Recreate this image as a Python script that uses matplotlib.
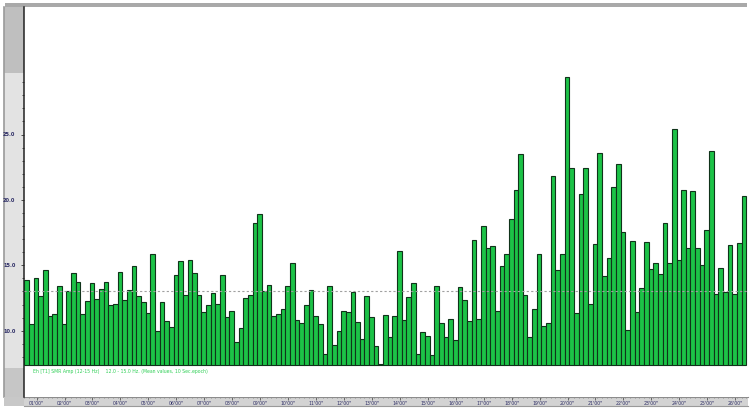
import matplotlib
matplotlib.use("Agg")
import matplotlib.pyplot as plt
from matplotlib.ticker import FixedLocator
import numpy as np

# ---- data ----
smr_amp = [13.85, 10.49, 14.03, 12.65, 14.64, 11.12, 11.25, 13.39, 10.54, 13.01,
           14.44, 13.72, 11.28, 12.25, 13.65, 12.45, 13.19, 13.72, 11.94, 12.04,
           14.46, 12.37, 13.14, 14.92, 12.65, 12.22, 11.35, 15.86, 9.98, 12.17,
           10.72, 10.28, 14.23, 15.30, 12.75, 15.40, 14.41, 12.73, 11.43, 11.94,
           12.86, 12.04, 14.26, 11.02, 11.48, 9.11, 10.18, 12.48, 12.71, 18.21,
           18.92, 13.06, 13.47, 11.10, 11.25, 11.66, 13.42, 15.20, 10.84, 10.61,
           11.94, 13.14, 11.12, 10.51, 8.24, 13.44, 8.93, 9.95, 11.53, 11.41,
           12.98, 10.66, 9.39, 12.63, 11.07, 8.83, 7.45, 11.22, 9.55, 11.12,
           16.12, 10.82, 12.55, 13.62, 8.19, 9.87, 9.62, 8.14, 13.44, 10.61,
           9.49, 10.92, 9.29, 13.32, 12.32, 10.72, 16.91, 10.92, 18.00, 16.35,
           16.48, 11.48, 14.95, 15.86, 18.52, 20.76, 23.49, 12.75, 9.54, 11.68,
           15.89, 10.36, 10.56, 21.83, 14.62, 15.84, 29.40, 22.44, 11.35, 20.47,
           22.42, 12.02, 16.65, 23.56, 14.18, 15.58, 21.01, 22.72, 17.55, 10.08,
           16.88, 11.43, 13.26, 16.80, 14.69, 15.20, 14.34, 18.23, 15.18, 25.42,
           15.43, 20.78, 16.30, 20.68, 16.35, 15.02, 17.68, 23.72, 12.78, 14.79,
           12.96, 16.53, 12.83, 16.73, 20.30]
mean_value = 13.0
baseline = 7.38
minutes = list(range(1, 27))
time_labels = [f"{m:02d}'00\"" for m in minutes]
y_major = [10, 15, 20, 25]
y_labels = ["10.0", "15.0", "20.0", "25.0"]
caption = "Eh [T1] SMR Amp (12-15 Hz)    12.0 - 15.0 Hz. (Mean values, 10 Sec.epoch)"

W, H = 750, 408
fig = plt.figure(figsize=(W / 100, H / 100), dpi=100)
fig.patch.set_facecolor("white")


def box(x0, y0, x1, y1):
    return [x0 / W, 1 - y1 / H, (x1 - x0) / W, (y1 - y0) / H]


def deco(rect, color, z=0):
    a = fig.add_axes(rect, zorder=z)
    a.set_facecolor(color)
    a.set_xticks([]); a.set_yticks([])
    for s in a.spines.values():
        s.set_visible(False)
    return a

# top border
deco(box(5, 3, 747, 7), "#a9a9a9")

# left strip (scroll indicator)
strip = fig.add_axes(box(4, 7, 24, 397), zorder=0)
strip.set_xlim(0, 1); strip.set_ylim(397, 7)
strip.axhspan(7, 73, color="#bfbfbf", lw=0)
strip.axhspan(73, 368, color="#e3e3e3", lw=0)
strip.axhspan(368, 397, color="#c6c6c6", lw=0)
strip.set_xticks([]); strip.set_yticks([])
for k, s in strip.spines.items():
    s.set_visible(k == "left")
strip.spines["left"].set_color("#9a9a9a")
strip.spines["left"].set_linewidth(1.2)

# bottom-left corner & bottom time strip
deco(box(4, 397, 24, 406), "#c8c8c8")

n = len(smr_amp)
x = np.arange(n)
xmax = n + 0.35

# main axes
ax = fig.add_axes(box(24.5, 7, 748, 397), zorder=2)
ax.set_facecolor("white")
ax.patch.set_alpha(1)
v_per_px = 1 / 13.08
ax.set_ylim(10 - (397 - 330.7) * v_per_px, 10 + (330.7 - 7) * v_per_px)
ax.set_xlim(0, xmax)
ax.bar(x, np.array(smr_amp) - baseline, bottom=baseline, width=1.0, align="edge",
       color="#1cc247", edgecolor="#10331a", linewidth=0.8, zorder=3)
ax.axhline(mean_value, color="#a0a0a0", lw=0.8, ls=(0, (2, 2)), zorder=4)
for k, s in ax.spines.items():
    s.set_visible(k == "left")
ax.spines["left"].set_color("#222222")
ax.spines["left"].set_linewidth(1.1)
ax.set_xticks([])
ax.yaxis.set_major_locator(FixedLocator(y_major))
ax.set_yticklabels(y_labels)
ax.yaxis.set_minor_locator(FixedLocator([v for v in range(8, 30) if v not in y_major]))
ax.tick_params(axis="y", which="major", direction="out", length=2, width=0.6,
               color="#333333", labelsize=3.6, labelcolor="#2e2e66", pad=4.5)
ax.tick_params(axis="y", which="minor", direction="out", length=1.6, width=0.6,
               color="#333333")
for t in ax.get_yticklabels():
    t.set_fontweight("bold")
ax.text(33 / 750 * 0 + (33 - 24.5) / (748 - 24.5), (397 - 372) / 390, caption,
        transform=ax.transAxes, fontsize=3.3, color="#2fcf55", va="center", ha="left")

# time strip
ts = fig.add_axes(box(24, 397, 748, 406), zorder=1)
ts.set_facecolor("#d3d3d3")
ts.set_xlim(-0.1, xmax)
ts.set_ylim(0, 1)
ts.set_yticks([])
pos = [6 * m - 3.4 for m in minutes]
ts.xaxis.set_major_locator(FixedLocator(pos))
ts.set_xticklabels(time_labels)
ts.xaxis.set_minor_locator(FixedLocator(list(range(0, n + 1))))
ts.tick_params(axis="x", which="major", direction="in", top=True, bottom=False,
               length=2.2, width=0.6, color="#555555", labelsize=3.3,
               labelcolor="#2e2e66", pad=-3.4)
ts.tick_params(axis="x", which="minor", direction="in", top=True, bottom=False,
               length=1.0, width=0.5, color="#777777")
for k, s in ts.spines.items():
    s.set_visible(k in ("top", "bottom"))
ts.spines["top"].set_color("#8c8c8c")
ts.spines["bottom"].set_color("#9a9a9a")

fig.savefig("out.png", dpi=100, facecolor="white")
